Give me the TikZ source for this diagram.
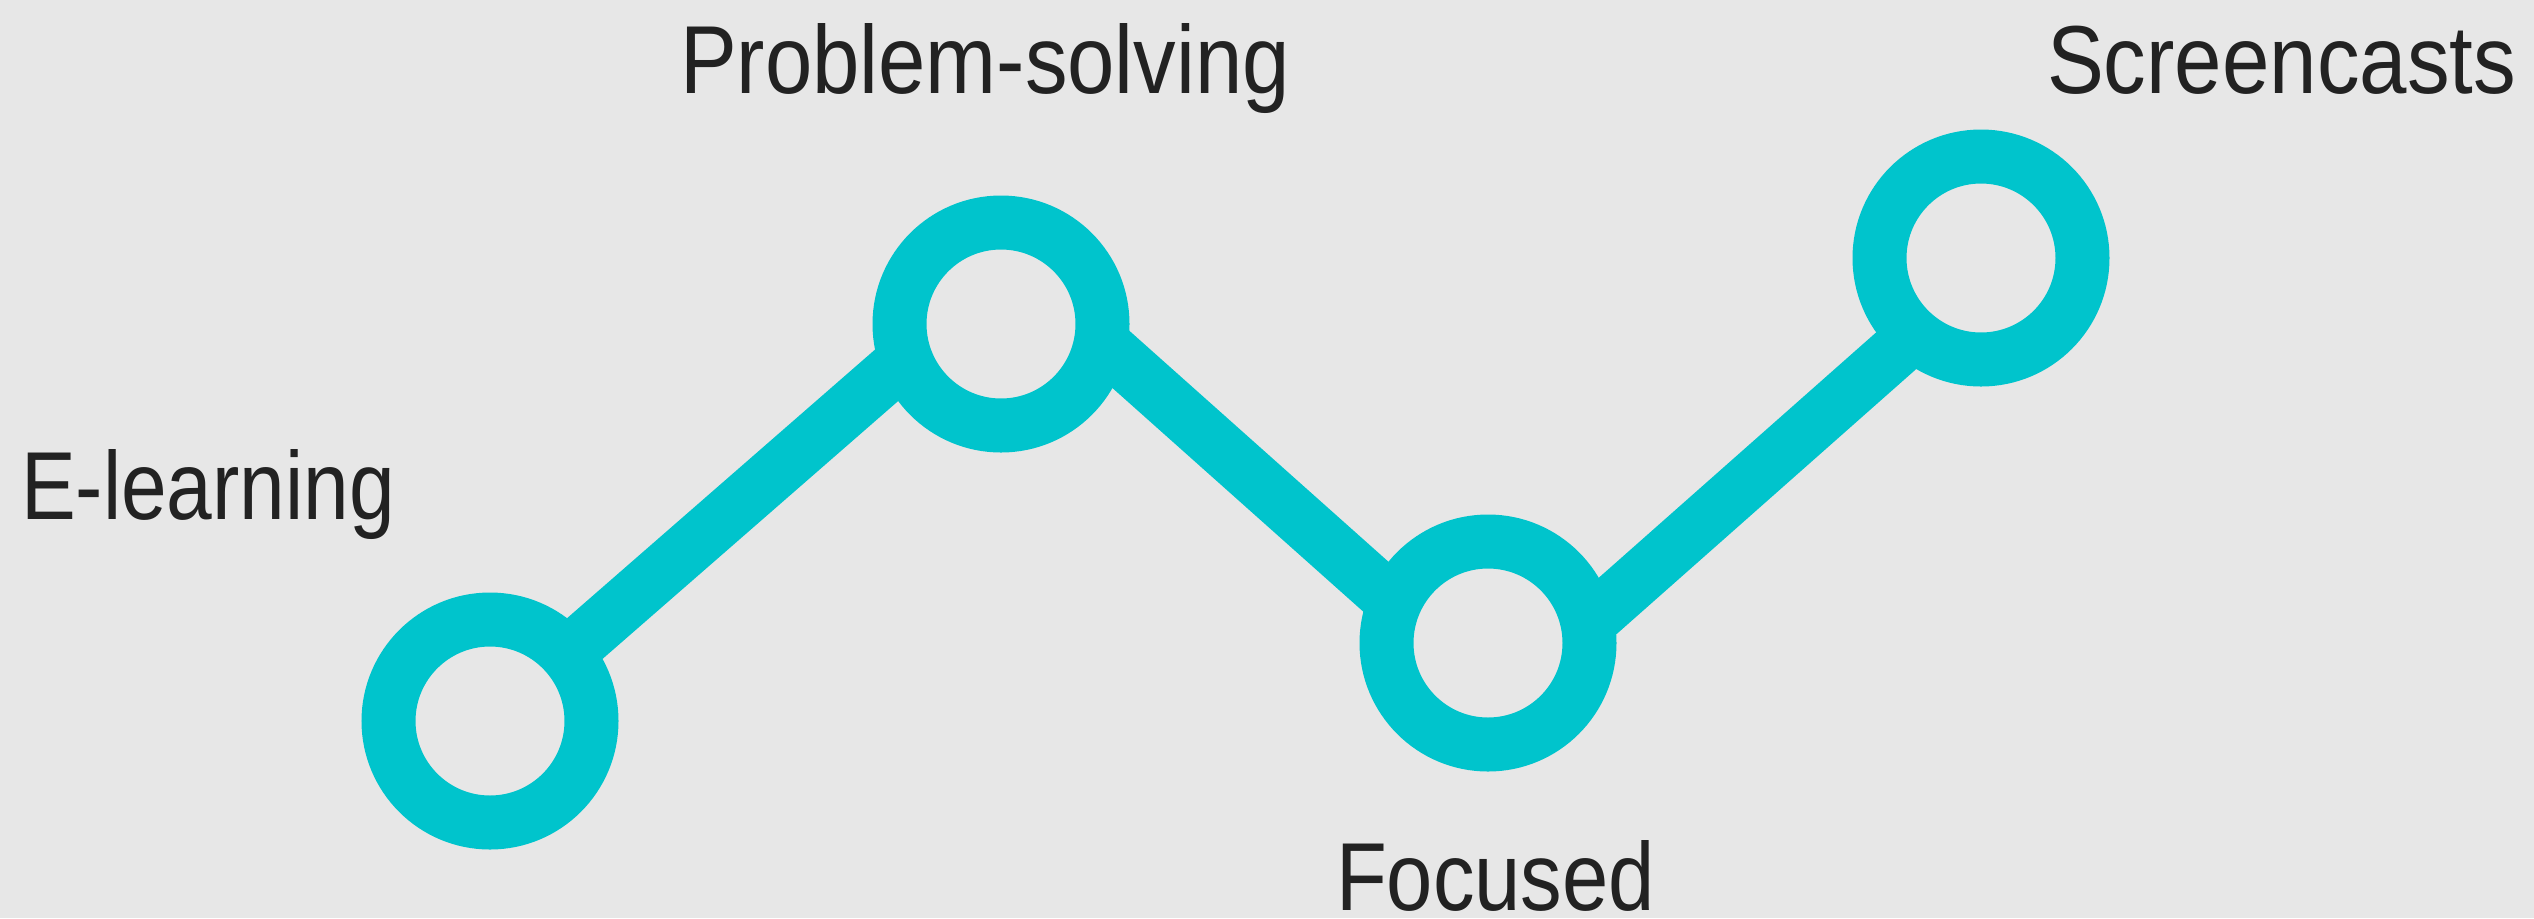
\documentclass[tikz,border=0pt]{standalone}
\usepackage{fontspec}
\setmainfont{Liberation Sans}
\definecolor{bgcol}{HTML}{E7E7E7}
\definecolor{ringcol}{HTML}{00C4CC}
\definecolor{ink}{HTML}{222222}
\newcommand{\fitlabel}[2]{\resizebox{#1}{\height}{#2}}
\begin{document}
\begin{tikzpicture}[x=0.5pt,y=-0.5pt,
  ring/.style={circle,draw=ringcol,line width=27pt,minimum size=101.5pt,inner sep=0pt,outer sep=0pt},
  link/.style={draw=ringcol,line width=27pt},
  lbl/.style={anchor=base west,inner sep=0pt,outer sep=0pt,text=ink,font=\fontsize{48.3pt}{50pt}\selectfont}]
\fill[bgcol] (0,0) rectangle (2534,918);
\useasboundingbox (0,0) rectangle (2534,918);
\node[ring] (c1) at (490,721) {};
\node[ring] (c2) at (1001,324) {};
\node[ring] (c3) at (1488,643) {};
\node[ring] (c4) at (1981,258) {};
\draw[link] (c1.41) -- (c2.200);
\draw[link] (c2.350) -- (c3.157);
\draw[link] (c3.11) -- (c4.229);
\node[lbl] (t1) at (21,519) {\fitlabel{187pt}{E-learning}};
\node[lbl] (t2) at (680,93) {\fitlabel{305pt}{Problem-solving}};
\node[lbl] (t3) at (1336,910) {\fitlabel{159.5pt}{Focused}};
\node[lbl] (t4) at (2047,93) {\fitlabel{234.5pt}{Screencasts}};
\end{tikzpicture}
\end{document}
